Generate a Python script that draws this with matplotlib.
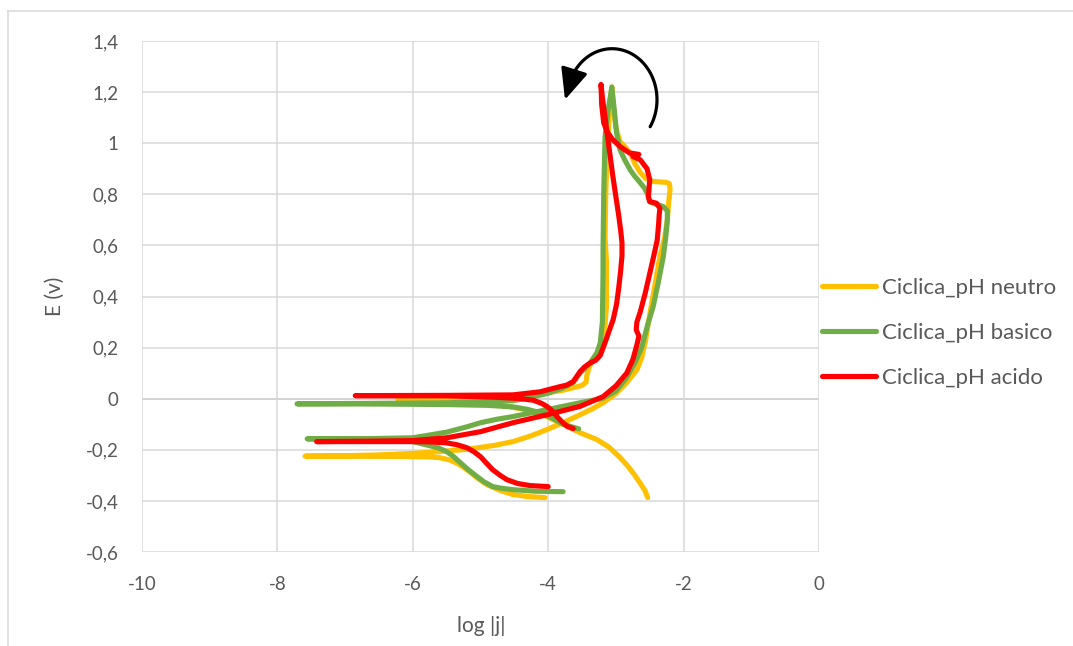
import numpy as np
import matplotlib
matplotlib.use("Agg")
import matplotlib.pyplot as plt
from matplotlib.patches import FancyArrowPatch
from matplotlib.path import Path
from matplotlib.lines import Line2D

# ---------------- data (log|j| , E) ----------------
neutro_logj = [-4.05, -4.30, -4.52, -4.70, -4.90, -5.05, -5.20, -5.33, -5.45, -5.60, -5.75, -6.20, -7.59,
               -7.00, -6.50, -6.00, -5.60, -5.20, -4.80, -4.52, -4.25, -4.02, -3.75, -3.53, -3.35,
               -3.19, -3.00, -2.85, -2.69, -2.62, -2.56, -2.50, -2.42, -2.35, -2.28, -2.24, -2.22,
               -2.20, -2.21, -2.26, -2.45, -2.55, -2.64, -2.72, -2.79, -2.88, -2.94, -3.00, -3.04, -3.06,
               -3.10, -3.13, -3.15, -3.16, -3.14, -3.14, -3.17, -3.23, -3.34, -3.40, -3.43, -3.44,
               -3.50, -3.60, -3.80, -4.10, -4.52, -5.50, -6.22,
               -5.50, -5.00, -4.60, -4.30, -4.10, -3.83, -3.53, -3.28, -3.10, -2.94, -2.82, -2.72,
               -2.63, -2.57, -2.53]
neutro_E = [-0.387, -0.383, -0.375, -0.360, -0.337, -0.310, -0.278, -0.255, -0.240, -0.231, -0.228, -0.226, -0.225,
            -0.223, -0.220, -0.214, -0.207, -0.198, -0.183, -0.168, -0.145, -0.121, -0.090, -0.063, -0.040,
            -0.016, 0.020, 0.060, 0.113, 0.160, 0.230, 0.330, 0.450, 0.556, 0.630, 0.700, 0.770,
            0.820, 0.842, 0.847, 0.850, 0.860, 0.885, 0.920, 0.963, 0.990, 1.006, 1.060, 1.150, 1.220,
            1.100, 0.950, 0.800, 0.630, 0.540, 0.360, 0.260, 0.190, 0.153, 0.120, 0.090, 0.065,
            0.052, 0.045, 0.032, 0.020, 0.010, 0.000, -0.004,
            -0.012, -0.020, -0.030, -0.045, -0.060, -0.094, -0.133, -0.160, -0.190, -0.230, -0.265, -0.300,
            -0.335, -0.360, -0.387]

basico_logj = [-3.78, -4.20, -4.52, -4.70, -4.82, -4.95, -5.05, -5.18, -5.30, -5.40, -5.50, -5.62, -5.75,
               -6.00, -6.40, -6.74, -7.56,
               -6.60, -6.00, -5.50, -5.20, -5.00, -4.75, -4.52, -4.02, -3.53, -3.19, -3.00, -2.85,
               -2.72, -2.62, -2.53, -2.45, -2.37, -2.30, -2.26, -2.24, -2.24, -2.30, -2.42, -2.50,
               -2.53, -2.58, -2.64, -2.72, -2.79, -2.87, -2.94, -2.99, -3.02, -3.06,
               -3.12, -3.16, -3.18, -3.19, -3.19, -3.20, -3.23, -3.28, -3.38, -3.47, -3.53, -3.63,
               -3.80, -4.02, -4.30, -4.52, -5.50, -6.50, -7.71,
               -6.50, -5.50, -4.90, -4.52, -4.30, -4.12, -3.95, -3.78, -3.55]
basico_E = [-0.364, -0.362, -0.356, -0.350, -0.344, -0.325, -0.305, -0.278, -0.250, -0.226, -0.207, -0.193, -0.184,
            -0.168, -0.162, -0.160, -0.157,
            -0.156, -0.153, -0.131, -0.110, -0.094, -0.080, -0.070, -0.043, -0.016, 0.002, 0.030, 0.080,
            0.140, 0.200, 0.290, 0.360, 0.460, 0.556, 0.640, 0.700, 0.735, 0.752, 0.762, 0.770,
            0.800, 0.825, 0.845, 0.870, 0.896, 0.935, 0.975, 1.040, 1.120, 1.220,
            1.120, 1.025, 0.800, 0.583, 0.490, 0.300, 0.220, 0.180, 0.140, 0.115, 0.100, 0.063,
            0.040, 0.020, 0.003, -0.008, -0.016, -0.018, -0.020,
            -0.021, -0.023, -0.026, -0.032, -0.042, -0.055, -0.075, -0.100, -0.118]

acido_logj = [-4.00, -4.27, -4.45, -4.61, -4.72, -4.82, -4.92, -5.00, -5.10, -5.20, -5.35, -5.50, -5.75,
              -6.00, -7.42,
              -6.60, -6.00, -5.50, -5.00, -4.52, -4.02, -3.53, -3.19, -3.00, -2.84, -2.75, -2.69,
              -2.66, -2.70, -2.69, -2.64, -2.57, -2.50, -2.44, -2.39, -2.37, -2.36, -2.35, -2.40,
              -2.50, -2.52, -2.50, -2.54, -2.64, -2.75, -2.66, -2.80, -2.94, -3.05, -3.13, -3.18, -3.21, -3.22,
              -3.20, -3.16, -3.12, -3.09, -3.05, -3.00, -2.96, -2.93, -2.91, -2.91, -2.93, -2.96,
              -2.99, -3.04, -3.12, -3.16, -3.23, -3.30, -3.38, -3.46, -3.53, -3.63, -3.73, -3.83,
              -4.12, -4.52, -5.50, -6.85,
              -5.50, -4.80, -4.40, -4.22, -4.10, -4.02, -3.94, -3.87, -3.80, -3.72, -3.63]
acido_E = [-0.344, -0.340, -0.332, -0.317, -0.298, -0.278, -0.250, -0.227, -0.207, -0.192, -0.180, -0.173, -0.169,
           -0.168, -0.168,
           -0.166, -0.164, -0.153, -0.129, -0.094, -0.063, -0.030, 0.008, 0.050, 0.100, 0.153, 0.210,
           0.245, 0.270, 0.300, 0.340, 0.410, 0.490, 0.560, 0.620, 0.680, 0.720, 0.745, 0.765,
           0.772, 0.790, 0.857, 0.900, 0.935, 0.948, 0.956, 0.962, 0.987, 1.015, 1.045, 1.080, 1.150, 1.230,
           1.180, 1.100, 1.020, 0.960, 0.880, 0.790, 0.720, 0.660, 0.610, 0.560, 0.500, 0.430,
           0.370, 0.310, 0.250, 0.220, 0.170, 0.150, 0.140, 0.125, 0.106, 0.067, 0.053, 0.047,
           0.027, 0.015, 0.013, 0.012,
           0.011, 0.006, 0.000, -0.006, -0.018, -0.030, -0.048, -0.070, -0.090, -0.108, -0.117]

series_names = ["Ciclica_pH neutro", "Ciclica_pH basico", "Ciclica_pH acido"]
x_ticks = [-10, -8, -6, -4, -2, 0]
y_ticks = [-0.6, -0.4, -0.2, 0, 0.2, 0.4, 0.6, 0.8, 1, 1.2, 1.4]

# ---------------- figure ----------------
W, H = 1073, 646
fig = plt.figure(figsize=(W / 100, H / 100), dpi=100)
ax = fig.add_axes([142 / W, 1 - 552 / H, (819 - 142) / W, (552 - 41) / H])

colors = ["#FFC000", "#70AD47", "#FF0000"]
for xs, ys, c, name in [(neutro_logj, neutro_E, colors[0], series_names[0]),
                        (basico_logj, basico_E, colors[1], series_names[1]),
                        (acido_logj, acido_E, colors[2], series_names[2])]:
    ax.plot(xs, ys, color=c, lw=3.7, solid_capstyle="round",
            solid_joinstyle="round", label=name, zorder=3)

ax.set_xlim(-10, 0)
ax.set_ylim(-0.6, 1.4)
ax.set_xticks(x_ticks)
ax.set_yticks(y_ticks)
ax.set_xticklabels([str(t) for t in x_ticks])
ax.set_yticklabels([("%g" % t).replace(".", ",") for t in y_ticks])
ax.grid(True, color="#D9D9D9", lw=1.1, zorder=0)
ax.axhline(0, color="#BFBFBF", lw=1.3, zorder=1)
for s in ax.spines.values():
    s.set_visible(False)
ax.tick_params(length=0, pad=17, labelsize=13.5, labelcolor="#595959")
for lab in ax.get_xticklabels() + ax.get_yticklabels():
    lab.set_family("Lato")

fig.text(481 / W, 1 - 626 / H, "log |j|", ha="center", va="center",
         fontsize=15, color="#595959", family="Lato")
fig.text(55 / W, 1 - 296 / H, "E (v)", ha="center", va="center",
         rotation=90, fontsize=15, color="#595959", family="Lato")

leg = fig.legend(loc="upper left", bbox_to_anchor=(822 / W, 1 - 278 / H),
                 frameon=False, prop={"family": "Lato", "size": 16},
                 handlelength=2.45, handletextpad=0.25, labelspacing=1.13,
                 borderpad=0, borderaxespad=0)
for t in leg.get_texts():
    t.set_color("#595959")
for l in leg.get_lines():
    l.set_linewidth(3.7)

# curved arrow (scan direction)
def px2data(px, py):
    return ((px - 819) / 67.7, (399 - py) / 255.5)

cx, cy, rx, ry = 612, 100, 45, 51
ts = np.radians(np.linspace(-32, 150, 60))
verts = [px2data(cx + rx * np.cos(t), cy - ry * np.sin(t)) for t in ts]
verts.append(px2data(565, 100))
codes = [Path.MOVETO] + [Path.LINETO] * (len(verts) - 1)
arrow = FancyArrowPatch(path=Path(verts, codes),
                        arrowstyle="-|>,head_length=0.95,head_width=0.42",
                        mutation_scale=20, color="black", lw=2.3, zorder=5)
ax.add_patch(arrow)

# outer chart frame
fig.add_artist(Line2D([8 / W, 1], [1 - 11 / H, 1 - 11 / H], color="#D9D9D9", lw=1.1))
fig.add_artist(Line2D([8 / W, 8 / W], [0, 1 - 11 / H], color="#D9D9D9", lw=1.1))

fig.savefig("out.png", dpi=100)
